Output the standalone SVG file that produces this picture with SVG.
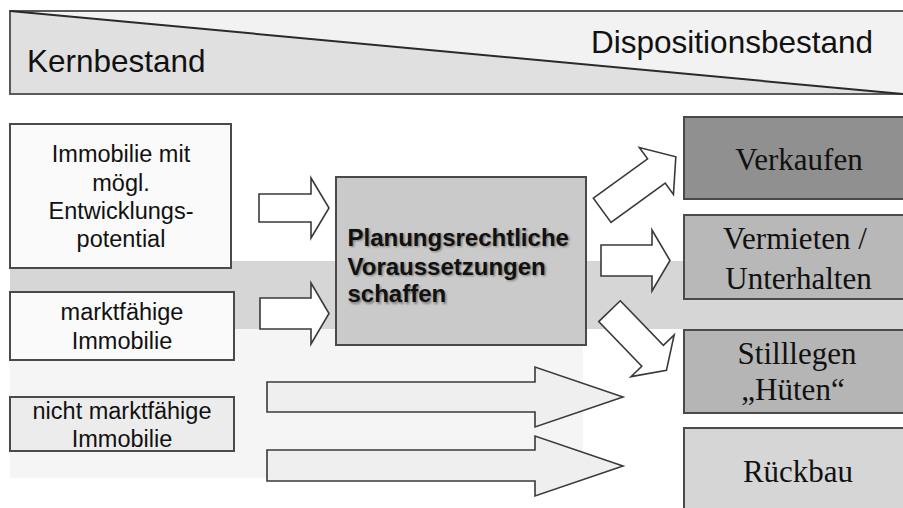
<svg xmlns="http://www.w3.org/2000/svg" width="903" height="508" viewBox="0 0 903 508">
  <defs>
    <style>
      .sans { font-family: "Liberation Sans", Arial, sans-serif; fill: #111; }
      .serif { font-family: "Liberation Serif", "Times New Roman", serif; fill: #111; font-size: 31px; text-anchor: middle; }
      .lbl { font-size: 23.5px; text-anchor: middle; }
      .box { stroke: #4a4a4a; stroke-width: 2; }
      .arrow { fill: #ffffff; stroke: #3a3a3a; stroke-width: 1.6; stroke-linejoin: miter; }
      .arrow-long { fill: #efefef; stroke: #3a3a3a; stroke-width: 1.6; }
      .bold { font-size: 24px; font-weight: bold; }
    </style>
    <filter id="soft" x="-10%" y="-30%" width="120%" height="160%">
      <feGaussianBlur stdDeviation="1"/>
    </filter>
  </defs>

  <rect width="903" height="508" fill="#ffffff"/>

  <!-- background bands -->
  <rect x="10" y="329" width="573" height="149" fill="#f5f5f5"/>
  <rect x="10" y="261" width="893" height="68" fill="#d6d6d6"/>

  <!-- banner: core vs. disposable stock -->
  <g id="banner">
    <polygon points="10,11 903,11 903,94" fill="#f2f2f2"/>
    <polygon points="10,11 903,94 10,94" fill="#e0e0e0"/>
    <rect x="10" y="11" width="900" height="83" fill="none" stroke="#5a5a5a" stroke-width="2"/>
    <line x1="10" y1="11" x2="903" y2="94" stroke="#2a2a2a" stroke-width="2"/>
    <text class="sans" x="27" y="72" font-size="31.5">Kernbestand</text>
    <text class="sans" x="873" y="53" font-size="31.5" text-anchor="end">Dispositionsbestand</text>
  </g>

  <!-- left: property categories -->
  <g id="immobilie-entwicklung">
    <rect class="box" x="10" y="124" width="221" height="144" fill="#fafafa"/>
    <text class="sans lbl" x="121" y="162">Immobilie mit</text>
    <text class="sans lbl" x="121" y="190.5">mögl.</text>
    <text class="sans lbl" x="121" y="219">Entwicklungs-</text>
    <text class="sans lbl" x="121" y="247">potential</text>
  </g>

  <g id="marktfaehig">
    <rect class="box" x="10" y="292" width="224" height="68" fill="#fafafa"/>
    <text class="sans lbl" x="122" y="319.5">marktfähige</text>
    <text class="sans lbl" x="122" y="348.5">Immobilie</text>
  </g>

  <g id="nicht-marktfaehig">
    <rect class="box" x="10" y="397" width="224" height="54" fill="#ececec"/>
    <text class="sans lbl" x="122" y="418.5">nicht marktfähige</text>
    <text class="sans lbl" x="122" y="447">Immobilie</text>
  </g>

  <!-- centre: planning step -->
  <g id="planung">
    <rect class="box" x="336" y="177" width="250" height="168" fill="#cacaca"/>
    <g filter="url(#soft)" fill="#7a7a7a" class="bold" font-family="Liberation Sans, Arial, sans-serif">
      <text x="349" y="247" font-size="24" font-weight="bold">Planungsrechtliche</text>
      <text x="349" y="276" font-size="24" font-weight="bold">Voraussetzungen</text>
      <text x="349" y="303.5" font-size="24" font-weight="bold">schaffen</text>
    </g>
    <text class="sans bold" x="347.5" y="245.5" fill="#2e2e2e">Planungsrechtliche</text>
    <text class="sans bold" x="347.5" y="274.5" fill="#2e2e2e">Voraussetzungen</text>
    <text class="sans bold" x="347.5" y="302" fill="#2e2e2e">schaffen</text>
  </g>

  <!-- right: outcomes -->
  <g id="verkaufen">
    <rect class="box" x="684" y="117" width="240" height="82" fill="#909090"/>
    <text class="serif" x="799" y="170">Verkaufen</text>
  </g>

  <g id="vermieten">
    <rect class="box" x="684" y="215" width="240" height="84" fill="#b8b8b8"/>
    <text class="serif" x="795" y="249">Vermieten /</text>
    <text class="serif" x="798.5" y="288.5">Unterhalten</text>
  </g>

  <g id="stilllegen">
    <rect class="box" x="684" y="330" width="240" height="83" fill="#b5b5b5"/>
    <text class="serif" x="797" y="363.5">Stilllegen</text>
    <text class="serif" x="793" y="400">„Hüten“</text>
  </g>

  <g id="rueckbau">
    <rect class="box" x="684" y="428" width="240" height="100" fill="#d6d6d6"/>
    <text class="serif" x="798" y="482">Rückbau</text>
  </g>

  <!-- connectors: block arrows -->
  <g id="connectors">
    <polygon class="arrow" points="259,194 311,194 311,178 329,208 311,238 311,222 259,222"/>
    <polygon class="arrow" points="260,298 311,298 311,283 329,313.5 311,344 311,329 260,329"/>
    <polygon class="arrow-long" points="267,382 535,382 535,367 623,397 535,427 535,412 267,412"/>
    <polygon class="arrow-long" points="267,450 535,450 535,436 623,466 535,496 535,481 267,481"/>
    <polygon class="arrow" points="601,245 652,245 652,230 670,260.5 652,291 652,276 601,276"/>
    <polygon class="arrow" transform="translate(602.2,210.3) rotate(-36)" points="0,-15 67,-15 67,-29 91,0 67,29 67,15 0,15"/>
    <polygon class="arrow" transform="translate(609.5,311.2) rotate(46)" points="0,-15 62,-15 62,-30 82,0 62,30 62,15 0,15"/>
  </g>
</svg>
